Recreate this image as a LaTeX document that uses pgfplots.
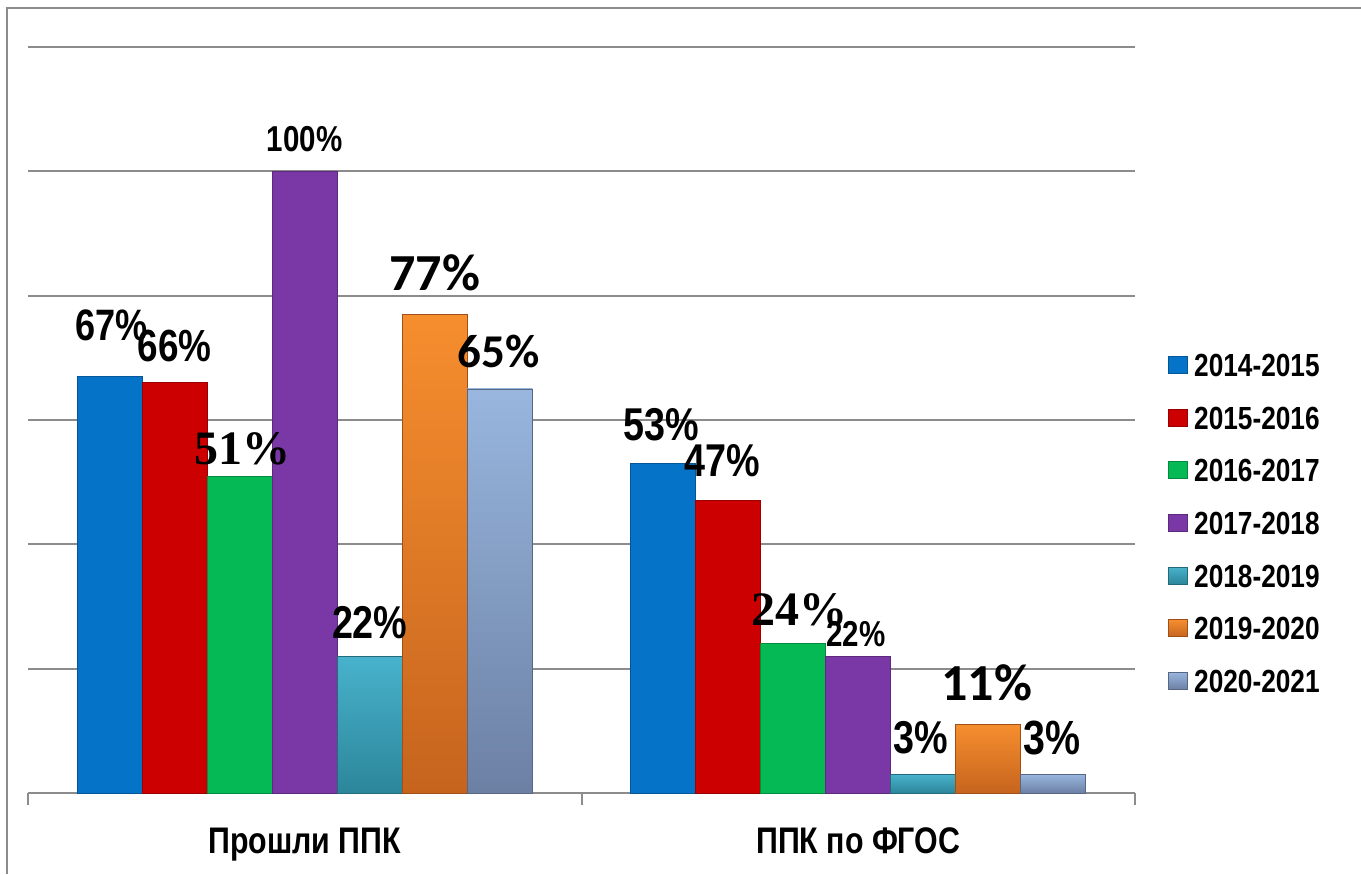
\documentclass[border=0pt]{standalone}
\usepackage{fontspec}
\setmainfont{Liberation Sans}
\newfontfamily\narrowfont[FakeStretch=0.82]{Liberation Sans}
\newfontfamily\seriffont{Liberation Serif}
\newfontfamily\calfont{Carlito}
\usepackage{pgfplots}
\usepackage{pgfplotstable}
\pgfplotsset{compat=1.18}

\definecolor{cBlue}{RGB}{5,116,200}
\definecolor{cRed}{RGB}{204,0,0}
\definecolor{cGreen}{RGB}{5,185,85}
\definecolor{cPurple}{RGB}{122,56,166}
\definecolor{cTealT}{RGB}{72,178,204}
\definecolor{cTealB}{RGB}{44,134,154}
\definecolor{cOrangeT}{RGB}{246,142,46}
\definecolor{cOrangeB}{RGB}{198,100,30}
\definecolor{cSteelT}{RGB}{152,182,222}
\definecolor{cSteelB}{RGB}{108,128,164}
\definecolor{gridgray}{RGB}{140,140,140}

% x: 0 = Прошли ППК, 1 = ППК по ФГОС
\pgfplotstableread{
x y
0 67
1 53
}\tabA
\pgfplotstableread{
x y
0 66
1 47
}\tabB
\pgfplotstableread{
x y
0 51
1 24
}\tabC
\pgfplotstableread{
x y
0 100
1 22
}\tabD
\pgfplotstableread{
x y
0 22
1 3
}\tabE
\pgfplotstableread{
x y
0 77
1 11
}\tabF
\pgfplotstableread{
x y
0 65
1 3
}\tabG

% value label: font family, size (pt), xshift, yshift (pt)
\pgfplotsset{
  lab/.style n args={4}{
    nodes near coords={#1\bfseries\fontsize{#2pt}{#2pt}\selectfont\pgfmathprintnumber[assume math mode=true]{\pgfplotspointmeta}\%},
    every node near coord/.append style={anchor=center, inner sep=0pt, xshift=#3pt, yshift=#4pt}},
  first/.style={skip coords between index={1}{2}},
  second/.style={skip coords between index={0}{1}, forget plot},
  sA/.style={fill=cBlue, draw=cBlue!75!black, line width=0.4pt, bar shift=-97.5pt},
  sB/.style={fill=cRed, draw=cRed!75!black, line width=0.4pt, bar shift=-65pt},
  sC/.style={fill=cGreen, draw=cGreen!75!black, line width=0.4pt, bar shift=-32.5pt},
  sD/.style={fill=cPurple, draw=cPurple!75!black, line width=0.4pt, bar shift=0pt},
  sE/.style={top color=cTealT, bottom color=cTealB, draw=cTealB!80!black, line width=0.4pt, bar shift=32.5pt},
  sF/.style={top color=cOrangeT, bottom color=cOrangeB, draw=cOrangeB!80!black, line width=0.4pt, bar shift=65pt},
  sG/.style={top color=cSteelT, bottom color=cSteelB, draw=cSteelB!80!black, line width=0.4pt, bar shift=97.5pt},
}

\begin{document}
\begin{tikzpicture}
\path[use as bounding box] (0,0) rectangle (680.5pt,437pt);
\draw[gridgray, line width=1pt] (3.5pt,0) -- (3.5pt,433pt) -- (680.5pt,433pt);
\begin{axis}[
    at={(14pt,40.5pt)}, anchor=south west,
    scale only axis,
    width=553.5pt, height=373pt,
    ybar, bar width=32.5pt,
    xmin=-0.5, xmax=1.5,
    ymin=0, ymax=120,
    xtick={-0.5,0.5,1.5}, xticklabels={},
    extra x ticks={0,1},
    extra x tick labels={Прошли ППК,ППК по ФГОС},
    extra x tick style={major tick length=0pt,
        tick label style={font=\narrowfont\bfseries\fontsize{18.5pt}{18.5pt}\selectfont,
            anchor=base, yshift=-30pt}},
    ytick={0,20,...,120}, yticklabels={},
    ymajorgrids,
    grid style={gridgray, line width=1pt},
    axis x line*=bottom, axis y line*=left,
    y axis line style={draw=none},
    x axis line style={gridgray, line width=1pt},
    tick align=outside, major tick length=6pt,
    x tick style={gridgray, line width=1pt},
    y tick style={draw=none},
    legend image code/.code={\draw[#1] (0pt,-4.25pt) rectangle (9.5pt,4.25pt);},
    legend style={at={(1.0298,0.362)}, anchor=west, draw=none, fill=none,
        inner sep=0pt, column sep=3pt, row sep=14.8pt,
        font=\narrowfont\bfseries\fontsize{16pt}{16pt}\selectfont,
        nodes={inner sep=0pt, text height=11.5pt, text depth=0pt}},
    legend cell align=left,
]
\addplot[sA, first, lab={\narrowfont}{22}{0.7}{25.7}] table[x=x,y=y] {\tabA};
\addplot[sA, second, lab={\narrowfont}{23}{-1.2}{19.2}] table[x=x,y=y] {\tabA};
\addplot[sB, first, lab={\narrowfont}{22.5}{0}{18.3}] table[x=x,y=y] {\tabB};
\addplot[sB, second, lab={\narrowfont}{23}{-3}{20.3}] table[x=x,y=y] {\tabB};
\addplot[sC, first, lab={\seriffont}{24}{1.2}{13.4}] table[x=x,y=y] {\tabC};
\addplot[sC, second, lab={\seriffont}{24}{3.2}{16.9}] table[x=x,y=y] {\tabC};
\addplot[sD, first, lab={\narrowfont}{18}{0}{16}] table[x=x,y=y] {\tabD};
\addplot[sD, second, lab={\narrowfont}{18}{-1.2}{11.1}] table[x=x,y=y] {\tabD};
\addplot[sE, first, lab={\narrowfont}{23}{0}{16.6}] table[x=x,y=y] {\tabE};
\addplot[sE, second, lab={\narrowfont}{23}{-1.2}{18.2}] table[x=x,y=y] {\tabE};
\addplot[sF, first, lab={\calfont}{26}{0}{21}] table[x=x,y=y] {\tabF};
\addplot[sF, second, lab={\calfont}{26}{-0.7}{20.8}] table[x=x,y=y] {\tabF};
\addplot[sG, first, lab={\calfont}{23.5}{-0.7}{18.8}] table[x=x,y=y] {\tabG};
\addplot[sG, second, lab={\narrowfont}{24}{-0.7}{18.2}] table[x=x,y=y] {\tabG};
\legend{2014-2015,2015-2016,2016-2017,2017-2018,2018-2019,2019-2020,2020-2021}
\end{axis}
\end{tikzpicture}
\end{document}
